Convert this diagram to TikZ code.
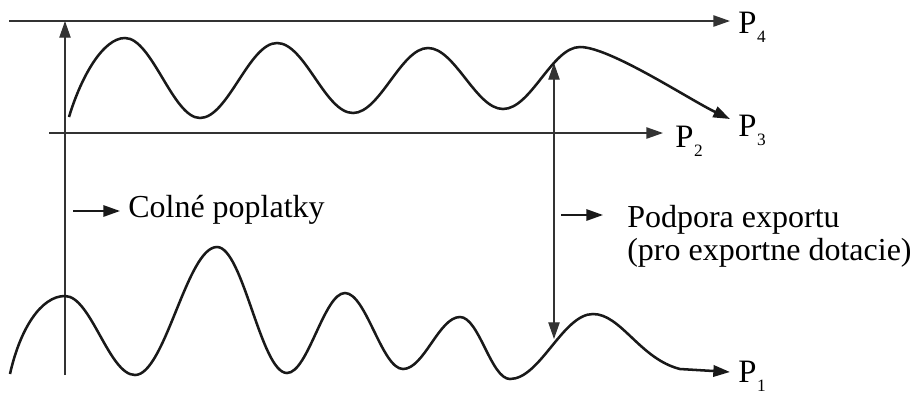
\documentclass[tikz,border=0pt]{standalone}
\usepackage{fontspec}
\setmainfont{Liberation Serif}
\usetikzlibrary{arrows.meta}
\newcommand{\Psub}[1]{P\kern0.5pt\raisebox{-6.8pt}{\fontsize{13}{15}\selectfont #1}}
\begin{document}
\begin{tikzpicture}[x=0.75pt,y=-0.75pt,
  >={Triangle[length=12.5pt,width=8.5pt]},
  axis/.style={line width=1.1pt,draw=black!80},
  vline/.style={line width=0.9pt,draw=black!80},
  small/.style={line width=1.4pt,draw=black!90},
  wave/.style={line width=1.9pt,draw=black!90},
  lbl/.style={inner sep=0pt,anchor=base west,font=\fontsize{24.5}{28}\selectfont},
  txt/.style={inner sep=0pt,anchor=base west,font=\fontsize{24}{24.75}\selectfont}]
\useasboundingbox (0,0) rectangle (914,394);

% labels
\node[lbl] (P4) at (738,33) {\Psub{4}};
\node[lbl] (P3) at (738,136) {\Psub{3}};
\node[lbl] (P2) at (675,147) {\Psub{2}};
\node[lbl] (P1) at (738,382) {\Psub{1}};
\node[txt] (colne) at (128,217) {Colné poplatky};
\node[txt] (podpora) at (627,227) {\begin{tabular}[t]{@{}l@{}}Podpora exportu\\(pro exportne dotacie)\end{tabular}};

% axes
\coordinate (a4) at (9,21);
\draw[axis,->,shorten >=6pt] (a4) -- (a4 -| P4.west);
\coordinate (a2) at (49,133);
\draw[axis,->,shorten >=9pt] (a2) -- (a2 -| P2.west);

% vertical arrows
\coordinate (vl) at (65,375);
\draw[vline,->] (vl) -- (vl |- a4);
\coordinate (vrt) at (554,63);
\coordinate (vrb) at (554,339);
\draw[vline,<->] (vrb) -- (vrt);

% small arrows to texts
\coordinate (ca) at (73,211);
\draw[small,->,shorten >=6pt] (ca) -- (ca -| colne.west);
\coordinate (pa) at (561,215);
\draw[small,->,shorten >=18pt] (pa) -- (pa -| podpora.west);

% top wave (P3)
\coordinate (t3) at (730,119);
\draw[wave,->] (69,117) .. controls +(12,-40) and +(-22,0) .. (125,38)
 .. controls +(27,0) and +(-27,0) .. (200,118)
 .. controls +(28,0) and +(-28,0) .. (277,43)
 .. controls +(28,0) and +(-28,0) .. (353,113)
 .. controls +(27,0) and +(-27,0) .. (428,48)
 .. controls +(27,0) and +(-27,0) .. (503,109)
 .. controls +(28,0) and +(-28,0) .. (580,47)
 .. controls +(30,0) and +(-40,-19) .. (t3);

% bottom wave (P1)
\coordinate (t1) at (730,372);
\draw[wave,->] (10,374) .. controls +(10,-45) and +(-24,0) .. (65,296)
 .. controls +(26,0) and +(-26,0) .. (135,375)
 .. controls +(30,0) and +(-30,0) .. (217,247)
 .. controls +(26,0) and +(-26,0) .. (287,373)
 .. controls +(21,0) and +(-21,0) .. (345,293)
 .. controls +(21,0) and +(-21,0) .. (403,369)
 .. controls +(21,0) and +(-21,0) .. (460,317)
 .. controls +(19,0) and +(-19,0) .. (510,379)
 .. controls +(30,0) and +(-30,0) .. (593,314)
 .. controls +(28,0) and +(-40,-10) .. (680,369)
 -- (t1);
\end{tikzpicture}
\end{document}
